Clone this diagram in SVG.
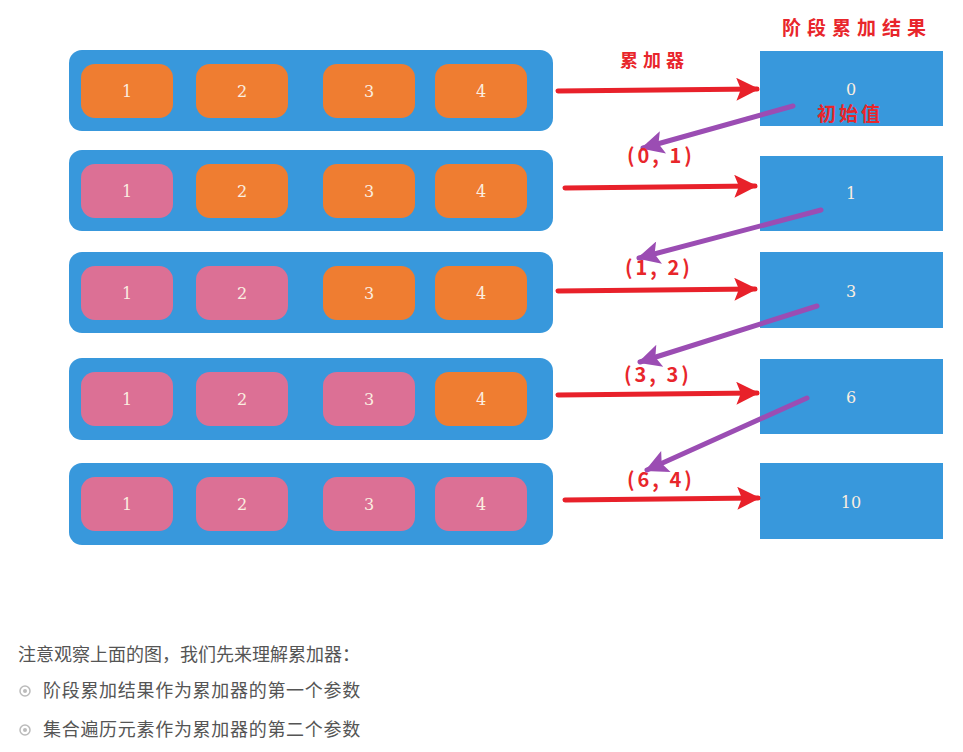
<svg xmlns="http://www.w3.org/2000/svg" width="963" height="752" viewBox="0 0 963 752">
<style>
.row{fill:#3898dc}
.o{fill:#ef7d31}
.p{fill:#dc7095}
.res{fill:#3898dc}
.num{font-family:"DejaVu Serif","Liberation Serif",serif;font-size:16px;fill:#fbeee0;text-anchor:middle}
.lbl{font-family:"Noto Sans CJK SC",sans-serif;font-weight:bold;fill:#e8262b}
.pr{font-size:20px;letter-spacing:3px}
.red{stroke:#e8212a;stroke-width:5;stroke-linecap:round;fill:none}
.pur{stroke:#9b4db3;stroke-width:5;stroke-linecap:round;fill:none}
.txt{font-family:"Noto Sans CJK SC",sans-serif;font-size:18px;fill:#555}
</style>
<defs>
<marker id="ar" viewBox="0 0 10 10" refX="9" refY="5" markerWidth="5" markerHeight="4.6" orient="auto" markerUnits="strokeWidth"><path d="M0,0 L10,5 L0,10 L2,5 Z" fill="#e8212a"/></marker>
<marker id="ap" viewBox="0 0 10 10" refX="9" refY="5" markerWidth="5" markerHeight="4.6" orient="auto" markerUnits="strokeWidth"><path d="M0,0 L10,5 L0,10 L2,5 Z" fill="#9b4db3"/></marker>
</defs>
<rect width="963" height="752" fill="#fff"/>
<g id="row1">
<rect class="row" x="69" y="50" width="484" height="81" rx="13"/>
<rect class="o" x="81" y="64" width="92" height="54" rx="14"/><text class="num" x="127" y="97">1</text>
<rect class="o" x="196" y="64" width="92" height="54" rx="14"/><text class="num" x="242" y="97">2</text>
<rect class="o" x="323" y="64" width="92" height="54" rx="14"/><text class="num" x="369" y="97">3</text>
<rect class="o" x="435" y="64" width="92" height="54" rx="14"/><text class="num" x="481" y="97">4</text>
</g>
<g id="row2">
<rect class="row" x="69" y="150" width="484" height="81" rx="13"/>
<rect class="p" x="81" y="164" width="92" height="54" rx="14"/><text class="num" x="127" y="197">1</text>
<rect class="o" x="196" y="164" width="92" height="54" rx="14"/><text class="num" x="242" y="197">2</text>
<rect class="o" x="323" y="164" width="92" height="54" rx="14"/><text class="num" x="369" y="197">3</text>
<rect class="o" x="435" y="164" width="92" height="54" rx="14"/><text class="num" x="481" y="197">4</text>
</g>
<g id="row3">
<rect class="row" x="69" y="252" width="484" height="81" rx="13"/>
<rect class="p" x="81" y="266" width="92" height="54" rx="14"/><text class="num" x="127" y="299">1</text>
<rect class="p" x="196" y="266" width="92" height="54" rx="14"/><text class="num" x="242" y="299">2</text>
<rect class="o" x="323" y="266" width="92" height="54" rx="14"/><text class="num" x="369" y="299">3</text>
<rect class="o" x="435" y="266" width="92" height="54" rx="14"/><text class="num" x="481" y="299">4</text>
</g>
<g id="row4">
<rect class="row" x="69" y="358" width="484" height="82" rx="13"/>
<rect class="p" x="81" y="372" width="92" height="54" rx="14"/><text class="num" x="127" y="405">1</text>
<rect class="p" x="196" y="372" width="92" height="54" rx="14"/><text class="num" x="242" y="405">2</text>
<rect class="p" x="323" y="372" width="92" height="54" rx="14"/><text class="num" x="369" y="405">3</text>
<rect class="o" x="435" y="372" width="92" height="54" rx="14"/><text class="num" x="481" y="405">4</text>
</g>
<g id="row5">
<rect class="row" x="69" y="463" width="484" height="82" rx="13"/>
<rect class="p" x="81" y="477" width="92" height="54" rx="14"/><text class="num" x="127" y="510">1</text>
<rect class="p" x="196" y="477" width="92" height="54" rx="14"/><text class="num" x="242" y="510">2</text>
<rect class="p" x="323" y="477" width="92" height="54" rx="14"/><text class="num" x="369" y="510">3</text>
<rect class="p" x="435" y="477" width="92" height="54" rx="14"/><text class="num" x="481" y="510">4</text>
</g>
<g id="res0"><rect class="res" x="760" y="51" width="183" height="75"/><text class="num" x="851" y="95">0</text></g>
<g id="res1"><rect class="res" x="760" y="156" width="183" height="75"/><text class="num" x="851" y="199">1</text></g>
<g id="res3"><rect class="res" x="760" y="252" width="183" height="76"/><text class="num" x="851" y="297">3</text></g>
<g id="res6"><rect class="res" x="760" y="359" width="183" height="75"/><text class="num" x="851" y="403">6</text></g>
<g id="res10"><rect class="res" x="760" y="463" width="183" height="76"/><text class="num" x="851" y="508">10</text></g>
<g id="connectors">
<line class="red" x1="558" y1="91" x2="757" y2="89" marker-end="url(#ar)"/>
<line class="red" x1="565" y1="188" x2="755" y2="186" marker-end="url(#ar)"/>
<line class="red" x1="558" y1="291" x2="755" y2="289" marker-end="url(#ar)"/>
<line class="red" x1="558" y1="395" x2="757" y2="393" marker-end="url(#ar)"/>
<line class="red" x1="565" y1="500" x2="758" y2="498" marker-end="url(#ar)"/>
<line class="pur" x1="793" y1="106" x2="643" y2="148" marker-end="url(#ap)"/>
<line class="pur" x1="821" y1="210" x2="639" y2="258" marker-end="url(#ap)"/>
<line class="pur" x1="817" y1="306" x2="640" y2="362" marker-end="url(#ap)"/>
<line class="pur" x1="807" y1="398" x2="647" y2="470" marker-end="url(#ap)"/>
</g>
<g id="labels">
<text class="lbl" x="782" y="35" font-size="19" letter-spacing="6">阶段累加结果</text>
<text class="lbl" x="620" y="67" font-size="18" letter-spacing="5">累加器</text>
<text class="lbl" x="817" y="121" font-size="19" letter-spacing="3">初始值</text>
<text class="lbl pr" x="627" y="163">(0, 1)</text>
<text class="lbl pr" x="625" y="275">(1, 2)</text>
<text class="lbl pr" x="624" y="382">(3, 3)</text>
<text class="lbl pr" x="627" y="487">(6, 4)</text>
</g>
<g id="notes">
<text class="txt" x="18" y="661">注意观察上面的图，我们先来理解累加器：</text>
<circle cx="25" cy="691" r="5" fill="none" stroke="#bbb" stroke-width="1.5"/><circle cx="25" cy="691" r="2" fill="#bbb"/>
<text class="txt" x="43" y="697" letter-spacing="0.7">阶段累加结果作为累加器的第一个参数</text>
<circle cx="25" cy="730" r="5" fill="none" stroke="#bbb" stroke-width="1.5"/><circle cx="25" cy="730" r="2" fill="#bbb"/>
<text class="txt" x="43" y="736" letter-spacing="0.7">集合遍历元素作为累加器的第二个参数</text>
</g>
</svg>
